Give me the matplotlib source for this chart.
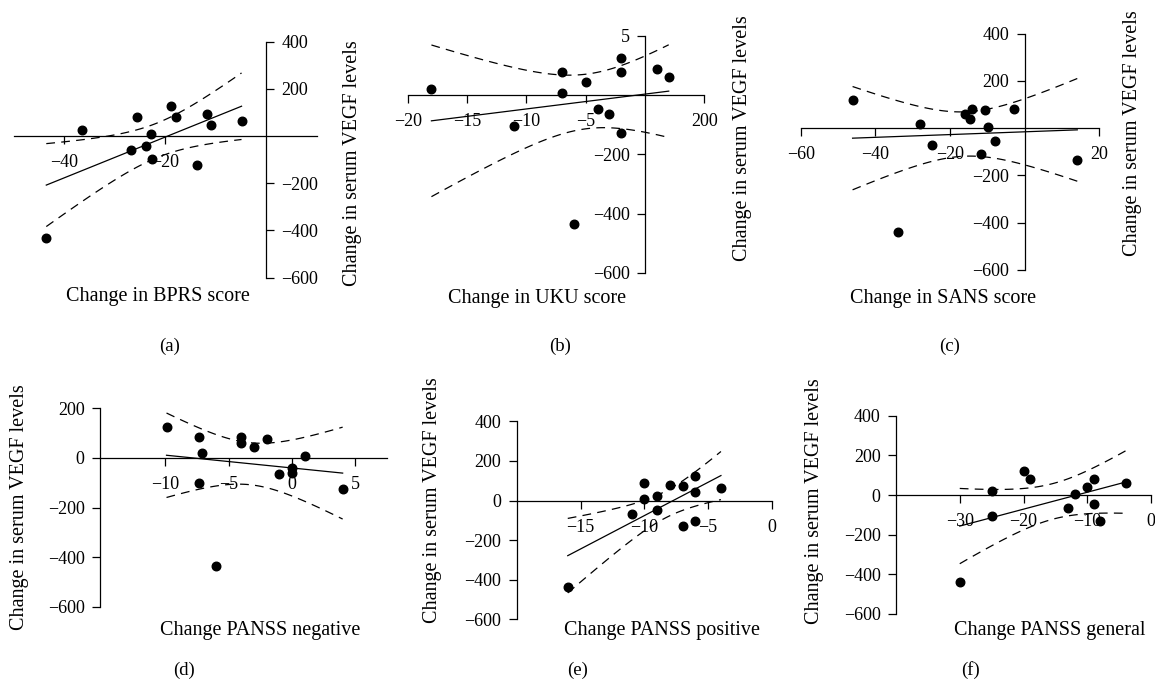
import numpy as np
import matplotlib
matplotlib.use("Agg")
import matplotlib.pyplot as plt

plt.rcParams['font.family'] = ['Liberation Serif', 'DejaVu Serif']
plt.rcParams['font.size'] = 13

# (a) BPRS
bprs_x = [-36.6, -25.7, -26.8, -23.8, -22.8, -22.7, -18.8, -17.8, -13.8, -11.8, -10.9, -4.9, -43.6]
bprs_y = [25, 82, -61, -40, 8, -99, 129, 83, -122, 93, 45, 66, -431]
# (b) UKU
uku_x = [-18, -11, -7, -7, -5, -4, -3, -2, -2, -2, -6, 1, 2]
uku_y = [19, -103, 79, 6, 43, -47, -64, 126, 76, -129, -435, 88, 61]
# (c) SANS
sans_x = [-46.1, -28.0, -24.9, -16.0, -14.7, -14.0, -11.8, -10.6, -9.9, -7.9, -2.9, 14.1, -33.9]
sans_y = [120, 16, -69, 61, 39, 83, -107, 76, 4, -52, 83, -133, -439]
# (d) PANSS negative
neg_x = [-9.9, -7.3, -7.1, -4.0, -4.0, -3.0, -2.0, -1.0, 0.0, 0.0, 1.0, 4.0, -6.0, -7.3]
neg_y = [125, 84, 21, 86, 59, 43, 78, -66, -42, -59, 7, -126, -435, -102]
# (e) PANSS positive
pos_x = [-16, -11, -10, -10, -9, -9, -8, -7, -7, -6, -6, -6, -4]
pos_y = [-437, -66, 89, 7, 22, -49, 79, 74, -129, 124, 42, -104, 64]
# (f) PANSS general
gen_x = [-30, -25, -25, -20, -19, -13, -12, -10, -9, -9, -8, -4]
gen_y = [-439, 22, -104, 123, 81, -66, 3, 40, 81, -47, -131, 59]

t_crit = {10: 2.228, 11: 2.201, 12: 2.179}

W, H = 1155, 683
fig = plt.figure(figsize=(W / 100, H / 100), dpi=100)


def panel(x, y, xlim, ylim, box, xticks, xlabels, yticks, ylabels,
          xlabel, xlab_pos, ylab_pos, letter, letter_pos, yside='left', ypos0=True):
    x0, x1, ytop, ybot = box
    ax = fig.add_axes([x0 / W, 1 - ybot / H, (x1 - x0) / W, (ybot - ytop) / H])
    ax.patch.set_visible(False)
    ax.set_xlim(*xlim)
    ax.set_ylim(*ylim)
    for s in ['top', 'left', 'right']:
        ax.spines[s].set_visible(False)
    ax.spines['bottom'].set_position(('data', 0))
    ysp = ax.spines[yside]
    ysp.set_visible(True)
    if ypos0:
        ysp.set_position(('data', 0))
    if yside == 'right':
        ax.yaxis.tick_right()
    for s in ax.spines.values():
        s.set_linewidth(0.9)
    ax.set_xticks(xticks, xlabels)
    ax.set_yticks(yticks, ylabels)
    ax.tick_params(axis='x', direction='out', length=6, width=0.9, pad=7)
    ax.tick_params(axis='y', direction='out', length=6, width=0.9, pad=5)

    x = np.array(x, float)
    y = np.array(y, float)
    b, a = np.polyfit(x, y, 1)
    xs = np.linspace(x.min(), x.max(), 100)
    yhat = a + b * xs
    n = len(x)
    s = np.sqrt(np.sum((y - (a + b * x)) ** 2) / (n - 2))
    se = s * np.sqrt(1 / n + (xs - x.mean()) ** 2 / np.sum((x - x.mean()) ** 2))
    t = t_crit[n - 2]
    ax.plot(xs, yhat, color='black', lw=0.9)
    ax.plot(xs, yhat + t * se, color='black', lw=0.9, ls=(0, (7, 5)))
    ax.plot(xs, yhat - t * se, color='black', lw=0.9, ls=(0, (7, 5)))
    ax.scatter(x, y, s=38, color='black', zorder=3, clip_on=False)

    fig.text(xlab_pos[0] / W, 1 - xlab_pos[1] / H, xlabel, ha='center', va='center', fontsize=14.5)
    fig.text(ylab_pos[0] / W, 1 - ylab_pos[1] / H, 'Change in serum VEGF levels',
             ha='center', va='center', rotation=90, fontsize=14.5)
    fig.text(letter_pos[0] / W, 1 - letter_pos[1] / H, letter, ha='center', va='center', fontsize=13.5)
    return ax


panel(bprs_x, bprs_y, (-50, 10), (-600, 400), (14, 316.7, 41.7, 277.7),
      [-40, -20], ['−40', '−20'], [400, 200, -200, -400, -600], ['400', '200', '−200', '−400', '−600'],
      'Change in BPRS score', (158, 297), (352, 163), '(a)', (170, 346), yside='right')

panel(uku_x, uku_y, (-20, 5), (-600, 200), (407.7, 704.3, 35.7, 273),
      [-20, -15, -10, -5, 5], ['−20', '−15', '−10', '−5', '200'],
      [200, -200, -400, -600], ['5', '−200', '−400', '−600'],
      'Change in UKU score', (537, 298), (743, 138), '(b)', (560, 346))

panel(sans_x, sans_y, (-60, 20), (-600, 400), (800.7, 1099.3, 33.7, 270),
      [-60, -40, -20, 20], ['−60', '−40', '−20', '20'],
      [400, 200, -200, -400, -600], ['400', '200', '−200', '−400', '−600'],
      'Change in SANS score', (943, 298), (1133, 133), '(c)', (950, 346))

panel(neg_x, neg_y, (-15.15, 7.5), (-600, 200), (100, 387, 408.3, 606.7),
      [-10, -5, 0, 5], ['−10', '−5', '0', '5'],
      [200, 0, -200, -400, -600], ['200', '0', '−200', '−400', '−600'],
      'Change PANSS negative', (260, 630), (20, 507), '(d)', (184, 670), ypos0=False)

panel(pos_x, pos_y, (-20, 0), (-600, 400), (516.7, 772, 421.3, 619.3),
      [-15, -10, -5, 0], ['−15', '−10', '−5', '0'],
      [400, 200, 0, -200, -400, -600], ['400', '200', '0', '−200', '−400', '−600'],
      'Change PANSS positive', (662, 630), (433, 500), '(e)', (578, 670), ypos0=False)

panel(gen_x, gen_y, (-40, 0), (-600, 400), (896, 1151, 415.7, 614),
      [-30, -20, -10, 0], ['−30', '−20', '−10', '0'],
      [400, 200, 0, -200, -400, -600], ['400', '200', '0', '−200', '−400', '−600'],
      'Change PANSS general', (1050, 630), (814, 501), '(f)', (970, 670), ypos0=False)

fig.savefig('out.png', dpi=100)
